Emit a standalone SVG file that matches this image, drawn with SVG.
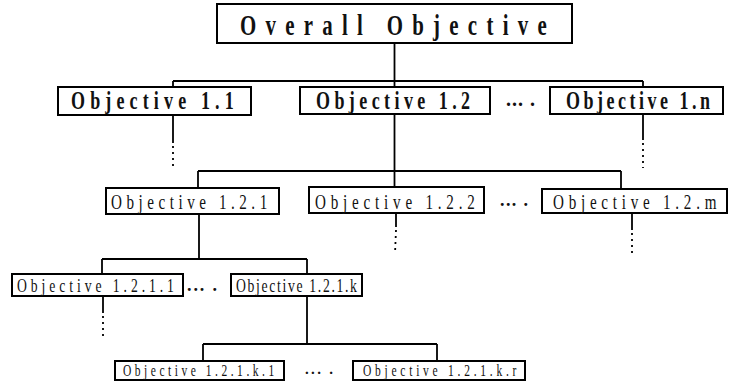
<svg xmlns="http://www.w3.org/2000/svg" width="735" height="383" viewBox="0 0 735 383">
<style>
.box{fill:#fff;stroke:#000;stroke-width:2}
.ln{stroke:#000;stroke-width:1.8;fill:none}
.dot{stroke:#000;stroke-width:1.8;fill:none;stroke-dasharray:2 4}
.tx{font-family:'Liberation Serif','DejaVu Serif',serif;fill:#111}
.t0{font-size:29px;font-weight:bold}
.t1{font-size:25px;font-weight:bold}
.t2{font-size:21px}
.t3{font-size:19px}
.t4{font-size:16px}
.e1{font-size:20px;font-weight:bold}
.e2{font-size:18px;font-weight:bold}
.e4{font-size:15px;font-weight:bold}
</style>
<rect width="735" height="383" fill="#fff"/>
<g id="connectors">
<line class="ln" x1="394.5" y1="43" x2="394.5" y2="87"/>
<line class="ln" x1="173" y1="81" x2="643" y2="81"/>
<line class="ln" x1="173" y1="81" x2="173" y2="87"/>
<line class="ln" x1="643" y1="81" x2="643" y2="87"/>
<line class="ln" x1="173" y1="115" x2="173" y2="143"/>
<line class="dot" x1="173" y1="146" x2="173" y2="170"/>
<line class="ln" x1="643" y1="114" x2="643" y2="140"/>
<line class="dot" x1="643" y1="143" x2="643" y2="168"/>
<line class="ln" x1="394.5" y1="114" x2="394.5" y2="188"/>
<line class="ln" x1="198" y1="171" x2="621" y2="171"/>
<line class="ln" x1="198" y1="171" x2="198" y2="188"/>
<line class="ln" x1="621" y1="171" x2="621" y2="189"/>
<line class="ln" x1="396" y1="213" x2="396" y2="227"/>
<line class="dot" x1="396" y1="230" x2="395" y2="254"/>
<line class="ln" x1="632" y1="213" x2="632" y2="230"/>
<line class="dot" x1="632" y1="233" x2="632" y2="255"/>
<line class="ln" x1="199" y1="214" x2="199" y2="259"/>
<line class="ln" x1="102" y1="259" x2="307" y2="259"/>
<line class="ln" x1="102" y1="259" x2="102" y2="274"/>
<line class="ln" x1="307" y1="259" x2="307" y2="274"/>
<line class="ln" x1="103" y1="296" x2="103" y2="313"/>
<line class="dot" x1="103" y1="316" x2="103" y2="338"/>
<line class="ln" x1="307" y1="296" x2="307" y2="344"/>
<line class="ln" x1="203" y1="344" x2="437" y2="344"/>
<line class="ln" x1="203" y1="344" x2="203" y2="361"/>
<line class="ln" x1="437" y1="344" x2="437" y2="361"/>
</g>
<g class="tx">
<g id="overall">
<rect class="box" x="217" y="4" width="355" height="39"/>
<text class="t0" transform="translate(240,35) scale(0.72,1)" textLength="426" lengthAdjust="spacing">Overall Objective</text>
</g>
<g id="obj1_1">
<rect class="box" x="58" y="87" width="193" height="28"/>
<text class="t1" transform="translate(71,109) scale(0.72,1)" textLength="226" lengthAdjust="spacing">Objective 1.1</text>
</g>
<g id="obj1_2">
<rect class="box" x="300" y="87" width="190" height="27"/>
<text class="t1" transform="translate(316,109) scale(0.72,1)" textLength="214" lengthAdjust="spacing">Objective 1.2</text>
</g>
<text class="e1" x="506" y="106" textLength="29" lengthAdjust="spacing">... .</text>
<g id="obj1_n">
<rect class="box" x="550" y="87" width="173" height="27"/>
<text class="t1" transform="translate(566,109) scale(0.72,1)" textLength="200" lengthAdjust="spacing">Objective 1.n</text>
</g>
<g id="obj1_2_1">
<rect class="box" x="106" y="188" width="173" height="26"/>
<text class="t2" transform="translate(111,209) scale(0.72,1)" textLength="217" lengthAdjust="spacing">Objective 1.2.1</text>
</g>
<g id="obj1_2_2">
<rect class="box" x="309" y="187" width="175" height="26"/>
<text class="t2" transform="translate(315,209) scale(0.72,1)" textLength="222" lengthAdjust="spacing">Objective 1.2.2</text>
</g>
<text class="e2" x="500" y="206" textLength="28" lengthAdjust="spacing">... .</text>
<g id="obj1_2_m">
<rect class="box" x="542" y="189" width="185" height="24"/>
<text class="t2" transform="translate(553,209) scale(0.72,1)" textLength="227" lengthAdjust="spacing">Objective 1.2.m</text>
</g>
<g id="obj1_2_1_1">
<rect class="box" x="12" y="274" width="171" height="22"/>
<text class="t3" transform="translate(17,292) scale(0.72,1)" textLength="218" lengthAdjust="spacing">Objective 1.2.1.1</text>
</g>
<text class="e2" x="187" y="291" textLength="30" lengthAdjust="spacing">... .</text>
<g id="obj1_2_1_k">
<rect class="box" x="231" y="274" width="131" height="22"/>
<text class="t3" transform="translate(236,292) scale(0.72,1)" textLength="168" lengthAdjust="spacing">Objective 1.2.1.k</text>
</g>
<g id="obj1_2_1_k_1">
<rect class="box" x="115" y="361" width="169" height="19"/>
<text class="t4" transform="translate(123,376) scale(0.72,1)" textLength="210" lengthAdjust="spacing">Objective 1.2.1.k.1</text>
</g>
<text class="e4" x="305" y="374" textLength="28" lengthAdjust="spacing">... .</text>
<g id="obj1_2_1_k_r">
<rect class="box" x="353" y="361" width="172" height="19"/>
<text class="t4" transform="translate(363,376) scale(0.72,1)" textLength="213" lengthAdjust="spacing">Objective 1.2.1.k.r</text>
</g>
</g>
</svg>
